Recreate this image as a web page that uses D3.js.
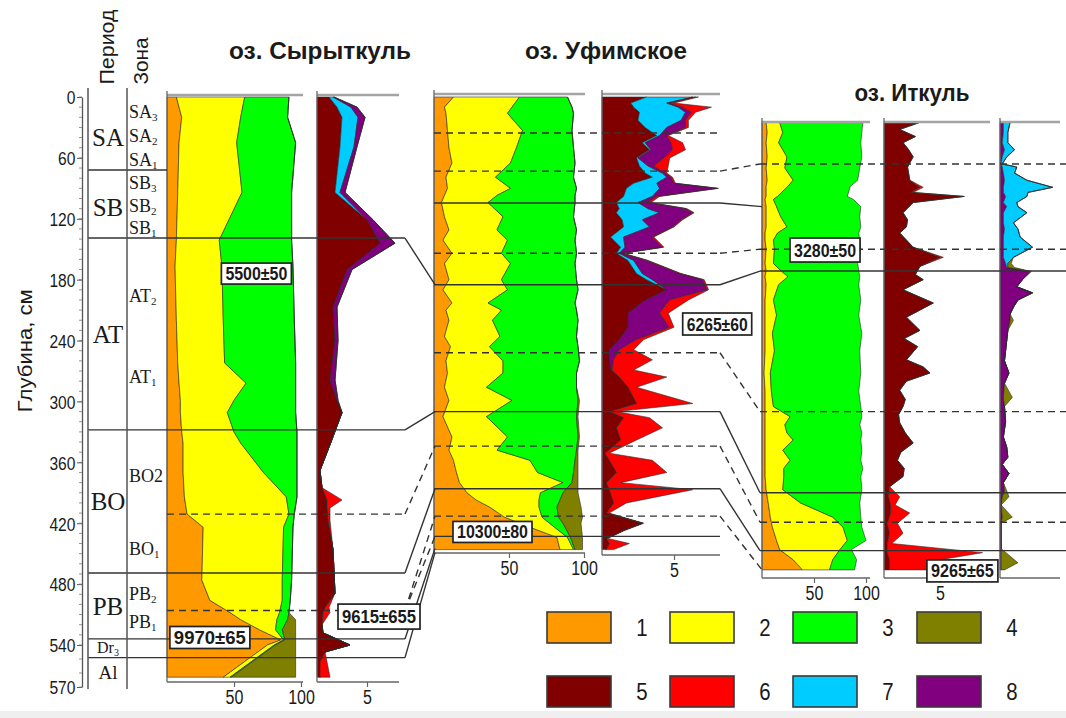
<!DOCTYPE html>
<html><head><meta charset="utf-8">
<script src="https://cdn.jsdelivr.net/npm/d3@7"></script>
<style>body{margin:0;background:#fff}svg{display:block}</style>
</head><body><svg id="c" width="1066" height="718"></svg>
<script>
// ================= DATA =================
const lakeTitles = ['оз. Сырыткуль', 'оз. Уфимское', 'оз. Иткуль'];
const depthTicks = [0, 60, 120, 180, 240, 300, 360, 420, 480, 540, 570];
const legendLabels = ['1', '2', '3', '4', '5', '6', '7', '8'];
const legendKeys = ['s1', 's2', 's3', 's4', 's5', 's6', 's7', 's8'];
const periodNames = ['SA', 'SB', 'AT', 'BO', 'PB', 'Dr', 'Al'];
const periodBounds = [0, 72, 139, 328, 469, 534, 549, 570];
const zoneNames = ['SA', 'SA', 'SA', 'SB', 'SB', 'SB', 'AT', 'AT', 'BO2', 'BO', 'PB', 'PB'];
const zoneSubs = ['3', '2', '1', '3', '2', '1', '2', '1', '', '1', '2', '1'];
const zoneDepths = [16, 39, 63, 86, 108, 130, 197, 277, 374, 446, 491, 518];
const dateLabels = ['5500±50', '9970±65', '9615±655', '10300±80', '6265±60', '3280±50', '9265±65'];

// --- оз. Сырыткуль, pollen (%) ---
const sytDepthA = [0,20,45,94,141,167,220,262,282,299,311,330,341,370,394,411,424,476,496,508,515,525,535,540,563];
const syt1 = [7,11,9,8,7,6,7,8,9,10,10,11,12,12,13,15,27,26,32,47,55,69,85,75,42];
const syt2 = [51,44,43,48,32,35,35,35,50,40,35,39,43,60,76,76,60,60,54,37,27,12,2,5,5];
const syt3 = [33,35,44,37,54,53,53,53,37,46,51,47,42,25,8,4,7,7,6,7,8,5,1,1,1];
const syt4 = [0,0,0,0,0,0,0,0,0,0,0,0,0,0,0,0,0,0,0,0,6,10,8,15,48];
// --- оз. Сырыткуль, spores etc. ---
const sytDepthB = [0,10,20,49,94,121,144,170,207,240,279,299,311,340,368,385,397,405,417,446,489,503,508,520,528,540,545,552,563];
const syt5 = [1.2,2.0,2.5,2.3,1.8,5.0,6.3,3.0,1.6,1.8,1.3,2.0,2.5,1.4,0.3,0.5,1.0,1.0,1.1,1.6,1.8,0.8,0.6,0.5,0.6,3.3,0.8,0.3,0.3];
const syt6 = [0,0,0,0,0,0,0,0,0,0,0,0,0,0,0,0,1.5,0.3,0.2,0,0,0.4,0.7,0,0,0,0,0.7,1.0];
const syt7 = [0.4,1.4,1.6,1.4,0.5,0,0,0,0,0,0,0,0,0,0,0,0,0,0,0,0,0,0,0,0,0,0,0,0];
const syt8 = [0.1,0.6,0.7,0.3,0.5,0.6,1.5,0.5,0.4,0.3,0.5,0.1,0,0,0,0,0,0,0,0,0,0,0,0,0,0,0,0,0];

// --- оз. Уфимское, pollen (%) ---
const ufiDepthA = [0,10,16,33,50,65,79,90,97,104,118,131,141,154,164,180,190,203,210,220,236,246,260,272,286,299,315,335,348,358,370,380,390,397,404,414,420,434,446];
const ufi1 = [13,7,8,9,10,12,8,9,7,5,7,10,6,12,7,10,6,12,8,10,7,11,8,9,7,10,6,12,10,13,15,17,22,28,37,47,57,82,84];
const ufi2 = [44,45,41,50,45,39,33,42,35,31,39,32,43,33,44,35,43,24,37,29,37,26,38,37,28,42,29,37,32,51,54,69,49,42,33,25,20,7,9];
const ufi3 = [32,40,44,33,38,43,52,44,52,58,47,53,45,50,43,50,47,58,50,57,51,59,51,49,60,44,60,47,53,30,24,6,15,14,12,11,9,2,1];
const ufi4 = [0,0,0,0,0,0,0,0,0,0,0,0,0,0,0,0,0,0,0,0,0,0,0,0,0,1,1,1,1,2,3,4,10,13,16,16,12,8,5];
// --- оз. Уфимское, spores etc. ---
const ufiDepthB = [0,6,10,15,23,30,38,45,52,60,68,75,79,85,90,98,104,110,114,121,128,138,148,154,161,174,180,190,200,213,227,239,249,259,269,276,286,302,310,316,326,338,351,358,370,380,387,400,410,420,427,435,440,446];
const ufi5 = [3.1,2.0,2.2,2.6,2.5,3.0,3.8,2.8,3.3,2.4,2.6,3.0,3.5,2.2,1.7,1.5,1.0,1.2,1.0,1.4,1.5,0.6,1.3,1.0,1.8,2.4,3.1,4.5,3.0,1.8,1.8,1.2,0.5,0.5,0.6,1.2,1.8,2.4,0.5,1.5,1.0,1.3,0.2,0.5,1.0,0.3,0.5,0.8,0.3,2.8,1.5,0.3,0.5,0.3];
const ufi6 = [0.2,0.3,2.0,0.3,0.2,0.2,0.1,0.8,0.9,0.4,1.0,0.1,0.1,0.1,0.1,0.2,0.2,0.1,0.1,0.1,0.1,0.1,0.1,0.1,0.1,0.1,0.1,0.1,1.3,0.6,0.3,0.5,1.0,2.7,1.5,3.3,0.6,3.9,0.5,1.8,3.2,1.1,0.3,3.0,3.5,1.0,5.8,0.9,0.2,0.1,0.1,0.1,1.4,0.5];
const ufi7 = [3.2,2.5,3.1,3.2,3.0,1.5,0.2,0.2,0.1,0.1,0.6,1.2,1.0,1.6,2.3,2.0,1.5,2.0,3.0,1.4,1.8,0.9,0.3,0.2,0.4,0.4,0.4,0,0,0,0,0,0,0,0,0,0,0,0,0,0,0,0,0,0,0,0,0,0,0,0,0,0,0];
const ufi8 = [0.2,0.2,0.3,0.4,0.3,1.3,0.5,1.8,1.5,1.8,0.4,0.2,0.3,1.2,4.0,0.3,0.7,2.6,2.3,2.7,1.6,2.0,2.6,0.2,0.9,2.6,3.5,2.8,1.7,2.2,2.9,1.2,0.7,0.3,0.1,0,0,0,0,0,0,0,0,0,0,0,0,0,0,0,0,0,0,0];

// --- оз. Иткуль, pollen (%) ---
const itkDepthA = [25,35,45,59,70,82,88,98,101,108,118,128,134,141,150,164,171,177,185,200,215,233,250,272,290,305,315,323,331,338,348,358,366,374,387,400,414,424,437,446,456,466];
const itk1 = [4,5,4,5,4,5,4,4,3,4,4,4,3,3,4,3,4,3,4,3,3,3,3,2,3,3,3,3,3,3,3,3,3,3,4,6,8,10,14,17,30,39];
const itk2 = [13,15,12,19,18,25,21,11,8,10,14,20,12,8,8,8,14,22,12,8,11,7,9,6,6,8,24,19,21,27,17,24,18,18,16,31,60,68,68,58,38,26];
const itk3 = [80,76,79,72,72,62,60,67,77,81,76,71,78,83,83,81,75,69,77,84,79,86,82,87,84,84,69,72,72,65,76,68,76,74,76,57,27,18,18,11,23,24];
// --- оз. Иткуль, groups 5–6 ---
const itkDepthB = [25,32,39,45,52,59,69,82,89,94,98,104,114,121,128,134,141,148,158,167,175,180,190,203,217,230,238,246,259,266,272,280,289,298,305,313,321,331,341,350,358,366,374,384,394,402,410,420,430,440,449,456,466];
const itk5 = [3.2,1.4,2.8,1.7,2.2,2.6,2.1,2.3,3.2,2.4,7.1,2.6,1.7,2.1,2.0,1.4,2.0,2.6,5.0,3.2,2.8,3.5,1.7,4.4,2.0,3.2,1.8,3.0,2.0,3.5,4.1,2.0,1.4,1.9,1.7,1.3,1.4,1.9,2.6,1.5,1.2,1.8,1.7,0.5,0.4,0.6,0.6,0.3,0.5,0.3,0.3,0.5,0.5];
const itk6 = [0,0,0,0,0,0,0,0,0.3,0.2,0.1,0,0,0,0,0,0,0,0.3,0,0,0,0,0,0,0,0,0,0,0,0,0,0,0,0,0,0,0,0,0,0,0,0,0,1.0,0.4,1.7,0.9,1.2,0.4,8.5,4.5,3.3];
// --- оз. Иткуль, groups 8, 7, 4 ---
const itkDepthC = [25,35,45,52,59,66,69,75,82,89,94,98,104,108,114,124,130,138,148,158,164,168,172,180,187,193,200,207,214,220,230,240,250,260,272,282,296,305,320,335,345,355,362,371,380,388,394,402,414,420,430,445,459,466];
const itk8 = [0.3,0.3,0.2,0.4,0.2,0.1,0.2,0.3,0.4,0.3,0.3,0.5,0.3,0.6,0.3,0.3,0.4,0.3,0.3,0.3,0.5,0.6,2.7,2.0,1.5,2.9,1.6,1.2,0.9,0.9,0.7,0.6,0.5,0.4,0.8,0.4,0.3,0.4,0.5,0.3,0.6,0.7,0.2,0.8,0.3,0.4,0.2,0.1,0.2,0.1,0.1,0.1,0.1,0.1];
const itk7 = [0.6,0.4,0.5,0.9,0.4,0.1,1.3,1.0,2.0,4.4,2.2,1.9,1.2,1.0,2.1,0.9,1.2,1.5,2.6,0.9,0.2,0.1,0,0,0,0,0,0,0,0,0,0,0,0,0,0,0,0,0,0,0,0,0,0,0,0,0,0,0,0,0,0,0,0];
const itk4 = [0,0,0,0,0,0,0,0,0,0,0,0,0,0,0,0,0,0,0,0,0.3,0.6,0.1,0,0,0,0,0,0,0.3,0,0,0,0,0,0,0.8,0,0,0,0,0,0,0,0,0.2,0.6,0,0.9,0,0,0,1.5,0.3];

// --- boundaries (depth, kind) and correlations between cores ---
const sytBoundDepth = [72, 139, 328, 411, 469, 506, 534, 549];
const sytBoundKind = ['period', 'period', 'period', 'zone', 'period', 'zone', 'period', 'period'];
const ufiBoundDepth = [35.5, 73, 104.5, 154, 185, 252, 310, 344, 386, 413, 433];
const ufiBoundKind = ['zone', 'zone', 'period', 'zone', 'period', 'zone', 'period', 'zone', 'period', 'zone', 'period'];
const itkBoundDepth = [66, 150, 171.5, 310, 390, 419, 447];
const itkBoundKind = ['zone', 'zone', 'period', 'zone', 'period', 'zone', 'period'];
const sytUfiLinks = [[139, 185], [328, 310], [411, 344], [469, 386], [506, 413], [506, 433], [534, 445], [549, 449]];
const ufiItkLinks = [[73, 66], [104.5, 108], [154, 150], [185, 171.5], [252, 310], [310, 390], [344, 419], [386, 447], [413, 466]];

// ================= DRAWING =================
const colors = {s1:'#FF9900', s2:'#FFFF00', s3:'#00FF00', s4:'#808000', s5:'#800000', s6:'#FF0000', s7:'#00CCFF', s8:'#800080'};
const SANS = 'Liberation Sans, Arial, sans-serif';
const SERIF = 'Liberation Serif, Times New Roman, serif';
const svg = d3.select('#c');
svg.append('rect').attr('width', 1066).attr('height', 718).attr('fill', '#fff');
svg.append('rect').attr('y', 711).attr('width', 1066).attr('height', 7).attr('fill', '#efefef');

const yD = d3.scaleLinear().domain([0, 540, 570]).range([97, 645, 687]);

function rowsOf(depths, cols) {
  return depths.map((d, i) => { const r = {depth: d}; for (const k in cols) r[k] = cols[k][i]; return r; });
}
function txt(g, x, y, s, o = {}) {
  return g.append('text')
    .attr('transform', `translate(${x},${y})` + (o.rot ? ` rotate(${o.rot})` : '') + ` scale(${o.sx || 1},1)`)
    .attr('font-family', o.fam || SANS).attr('font-size', o.size || 16)
    .attr('font-weight', o.w || 'normal').attr('text-anchor', o.anchor || 'middle')
    .attr('fill', o.fill || '#1a1a1a').text(s);
}

const gAreas = svg.append('g');
const gLines = svg.append('g');
const gTop = svg.append('g');

function drawPanel(rows, keys, x, top, axisY, end, ticks) {
  const series = d3.stack().keys(keys)(rows);
  const area = d3.area().y(p => yD(p.data.depth)).x0(p => x(p[0])).x1(p => x(p[1]));
  gAreas.append('g').selectAll('path').data(series).join('path')
    .attr('d', area).attr('fill', s => colors[s.key])
    .attr('stroke', '#2a2a2a').attr('stroke-width', 0.6).attr('stroke-linejoin', 'round');
  gAreas.append('line').attr('x1', x(0)).attr('x2', end).attr('y1', top).attr('y2', top)
    .attr('stroke', '#a4a4a4').attr('stroke-width', 2.5);
  gAreas.append('line').attr('x1', x(0)).attr('x2', x(0)).attr('y1', top - 4).attr('y2', axisY)
    .attr('stroke', '#666').attr('stroke-width', 1.3);
  gAreas.append('line').attr('x1', x(0)).attr('x2', end).attr('y1', axisY).attr('y2', axisY)
    .attr('stroke', '#666').attr('stroke-width', 1.3);
  if (ticks.length) {
    const ax = gAreas.append('g').attr('transform', `translate(0,${axisY})`)
      .call(d3.axisBottom(x).tickValues(ticks).tickSize(5).tickSizeOuter(0).tickFormat(d3.format('d')));
    ax.select('.domain').remove();
    ax.selectAll('line').attr('stroke', '#666').attr('stroke-width', 1.2);
    ax.selectAll('text').attr('font-family', SANS).attr('font-size', 20).attr('fill', '#1a1a1a')
      .attr('transform', 'scale(0.8,1)').attr('y', 8);
  }
}

const xSytA = d3.scaleLinear().domain([0, 100]).range([167, 301]);
const xSytB = d3.scaleLinear().domain([0, 1]).range([317, 327]);
const xUfiA = d3.scaleLinear().domain([0, 100]).range([434, 584]);
const xUfiB = d3.scaleLinear().domain([0, 1]).range([602, 616.4]);
const xItkA = d3.scaleLinear().domain([0, 100]).range([762, 866]);
const xItkB = d3.scaleLinear().domain([0, 1]).range([884, 895.2]);
const xItkC = d3.scaleLinear().domain([0, 1]).range([1000, 1011.2]);

drawPanel(rowsOf(sytDepthA, {s1: syt1, s2: syt2, s3: syt3, s4: syt4}), ['s1','s2','s3','s4'], xSytA, 95, 682, 303, [50, 100]);
drawPanel(rowsOf(sytDepthB, {s5: syt5, s6: syt6, s7: syt7, s8: syt8}), ['s5','s7','s8','s6'], xSytB, 95, 682, 399, [5]);
drawPanel(rowsOf(ufiDepthA, {s1: ufi1, s2: ufi2, s3: ufi3, s4: ufi4}), ['s1','s2','s3','s4'], xUfiA, 94, 553, 585, [50, 100]);
drawPanel(rowsOf(ufiDepthB, {s5: ufi5, s6: ufi6, s7: ufi7, s8: ufi8}), ['s5','s7','s8','s6'], xUfiB, 94, 555, 720, [5]);
drawPanel(rowsOf(itkDepthA, {s1: itk1, s2: itk2, s3: itk3}), ['s1','s2','s3'], xItkA, 122, 578, 870, [50, 100]);
drawPanel(rowsOf(itkDepthB, {s5: itk5, s6: itk6}), ['s5','s6'], xItkB, 122, 578, 990, [5]);
drawPanel(rowsOf(itkDepthC, {s8: itk8, s7: itk7, s4: itk4}), ['s8','s7','s4'], xItkC, 122, 578, 1060, []);

// ---- depth axis & stratigraphic columns ----
const gAx = svg.append('g');
const axL = gAx.append('g').attr('transform', 'translate(82,0)')
  .call(d3.axisLeft(yD).tickValues(depthTicks).tickSize(5).tickSizeOuter(0).tickFormat(d3.format('d')));
axL.select('.domain').attr('stroke', '#555').attr('stroke-width', 1.3);
axL.selectAll('line').attr('stroke', '#555');
axL.selectAll('text').attr('font-family', SANS).attr('font-size', 19).attr('fill', '#1a1a1a')
  .attr('transform', 'scale(0.82,1)').attr('dy', '0.36em').attr('x', -8);
gAx.selectAll('line.minor').data(d3.range(0, 571, 10)).join('line').attr('class', 'minor')
  .attr('x1', 79).attr('x2', 82).attr('y1', d => yD(d)).attr('y2', d => yD(d))
  .attr('stroke', '#777').attr('stroke-width', 0.8);
[88, 127].forEach(x => gAx.append('line').attr('x1', x).attr('x2', x).attr('y1', 88).attr('y2', 689)
  .attr('stroke', '#555').attr('stroke-width', 1.5));

txt(gAx, 25, yD(250), 'Глубина, см', {rot: -90, size: 20}).attr('dominant-baseline', 'central')
  .attr('textLength', 123).attr('lengthAdjust', 'spacingAndGlyphs');
txt(gAx, 107, 47, 'Период', {rot: -90, size: 20}).attr('dominant-baseline', 'central')
  .attr('textLength', 75).attr('lengthAdjust', 'spacingAndGlyphs');
txt(gAx, 141, 61, 'Зона', {rot: -90, size: 20}).attr('dominant-baseline', 'central')
  .attr('textLength', 47).attr('lengthAdjust', 'spacingAndGlyphs');

periodNames.forEach((p, i) => {
  const mid = (periodBounds[i] + periodBounds[i + 1]) / 2;
  const size = p === 'Dr' ? 16 : (p === 'Al' ? 19 : 25);
  const t = txt(gAx, 108, yD(mid) + size * 0.36 + (p === 'SA' || p === 'SB' ? 3 : 0), '', {fam: SERIF, size: size});
  t.append('tspan').text(p);
  if (p === 'Dr') t.append('tspan').attr('font-size', 10).attr('dy', 3).text('3');
});
zoneNames.forEach((z, i) => {
  const t = txt(gAx, 129, yD(zoneDepths[i]) + 5, '', {fam: SERIF, size: 18, anchor: 'start'});
  t.append('tspan').text(z);
  if (zoneSubs[i]) t.append('tspan').attr('font-size', 11).attr('dy', 3).text(zoneSubs[i]);
});

// ---- boundaries and correlation lines ----
function seg(x1, y1, x2, y2, dashed) {
  gLines.append('line').attr('x1', x1).attr('y1', y1).attr('x2', x2).attr('y2', y2)
    .attr('stroke', '#333').attr('stroke-width', 1.4)
    .attr('stroke-dasharray', dashed ? '7,5' : null);
}
sytBoundDepth.forEach((d, i) => {
  const dashed = sytBoundKind[i] === 'zone';
  const linked = sytUfiLinks.some(l => l[0] === d);
  seg(dashed ? 167 : 88, yD(d), linked ? 405 : 167, yD(d), dashed);
});
sytUfiLinks.forEach(([a, b]) => {
  seg(405, yD(a), 435, yD(b), sytBoundKind[sytBoundDepth.indexOf(a)] === 'zone');
});
ufiBoundDepth.forEach((d, i) => seg(434, yD(d), 720, yD(d), ufiBoundKind[i] === 'zone'));
ufiItkLinks.forEach(([a, b]) => {
  const dashed = ufiBoundKind[ufiBoundDepth.indexOf(a)] === 'zone';
  seg(720, yD(a), itkBoundDepth.includes(b) ? 760 : 762, yD(b), dashed);
});
itkBoundDepth.forEach((d, i) => seg(760, yD(d), 1066, yD(d), itkBoundKind[i] === 'zone'));

// ---- titles ----
txt(gTop, 320, 59, lakeTitles[0], {size: 24, w: 'bold'}).attr('textLength', 182).attr('lengthAdjust', 'spacingAndGlyphs');
txt(gTop, 606, 59, lakeTitles[1], {size: 24, w: 'bold'}).attr('textLength', 162).attr('lengthAdjust', 'spacingAndGlyphs');
txt(gTop, 912, 101, lakeTitles[2], {size: 24, w: 'bold'}).attr('textLength', 115).attr('lengthAdjust', 'spacingAndGlyphs');

// ---- radiocarbon date boxes ----
function dateBox(cx, cy, s, w, h) {
  gTop.append('rect').attr('x', cx - w / 2).attr('y', cy - h / 2).attr('width', w).attr('height', h)
    .attr('fill', '#fff').attr('stroke', '#222').attr('stroke-width', 1.7);
  gTop.append('text').attr('x', cx).attr('y', cy + 6.5).attr('text-anchor', 'middle')
    .attr('font-family', SANS).attr('font-size', 18).attr('font-weight', 'bold').attr('fill', '#1a1a1a')
    .attr('textLength', w - 8).attr('lengthAdjust', 'spacingAndGlyphs').text(s);
}
dateBox(xSytA(66.7), yD(174), dateLabels[0], 70, 21);
dateBox(xSytA(32), yD(532.6), dateLabels[1], 80, 22);
dateBox(xSytB(6.2), yD(512), dateLabels[2], 82, 25);
dateBox(xUfiA(39), yD(428.6), dateLabels[3], 79, 21);
dateBox(xUfiB(8.0), yD(223.7), dateLabels[4], 69, 22);
dateBox(xItkA(60.6), yD(150.8), dateLabels[5], 70, 24);
dateBox(xItkB(7.0), yD(467), dateLabels[6], 71, 22);

// ---- legend ----
const legX = [547, 670, 793, 917];
legendKeys.forEach((k, i) => {
  const col = i % 4, row = Math.floor(i / 4);
  const x = legX[col], y = row === 0 ? 612 : 676;
  gTop.append('rect').attr('x', x).attr('y', y).attr('width', 64).attr('height', 31)
    .attr('fill', colors[k]).attr('stroke', '#3a3a3a').attr('stroke-width', 1.6);
  txt(gTop, x + 95, y + 24, legendLabels[i], {size: 24, sx: 0.85});
});
</script></body></html>
